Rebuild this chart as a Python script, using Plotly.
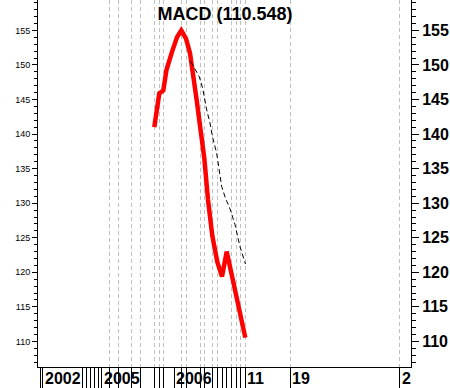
import plotly.graph_objects as go

# period index positions (time axis, non-uniform calendar)
grid_ticks = [71.3, 80.3, 93.7, 102.3, 116.3, 121.3, 125.3, 143.3, 148, 162.3, 166.3,
              174.3, 179.3, 193.7, 198, 202.7, 207, 252.3, 361.7]
plain_ticks = [2.7, 4.7, 44.7, 48, 52, 56.3, 60.3, 63.7, 136.3, 184, 188.7]
label_pos = [4.7, 63.7, 136.3, 207, 252.3, 361.7]
label_text = ["2002", "2005", "2006", "11", "19", "2"]

macd_t = [116.3, 121.3, 125.3, 128.5, 134, 139, 143.3, 148, 152, 155.3, 158.7, 162.3,
          166.3, 170, 174.3, 179.3, 184, 188.7, 193.7, 198, 202.7, 207.3]
macd_v = [141.0, 145.9, 146.3, 149.3, 151.9, 154.0, 155.0, 153.8, 151.7, 148.8, 144.9, 140.9,
          136.5, 130.5, 125.3, 121.5, 119.4, 123.0, 119.5, 116.6, 113.6, 110.548]

sig_t = [152.7, 157, 161.3, 164.7, 168.7, 172, 174.5, 178.7, 183.7, 188, 191.3, 197, 202, 207.5]
sig_v = [150.5, 149.5, 148.3, 146.6, 143.5, 141.6, 139.6, 137.2, 132.4, 130.5, 129.5, 126.9, 123.7, 121.2]

y_ticks = [110, 115, 120, 125, 130, 135, 140, 145, 150, 155]
title_text = "MACD (110.548)"

FONT = "Liberation Sans, Arial, sans-serif"

fig = go.Figure()
fig.add_trace(go.Scatter(x=sig_t, y=sig_v, mode="lines", yaxis="y2",
                         line=dict(color="black", width=1, dash="5px,3px"),
                         hoverinfo="skip", showlegend=False))
fig.add_trace(go.Scatter(x=macd_t, y=macd_v, mode="lines",
                         line=dict(color="#ff0000", width=4.5),
                         showlegend=False))

for pos, txt in zip(label_pos, label_text):
    fig.add_annotation(x=pos, y=0, xref="x", yref="paper", text="<b>%s</b>" % txt,
                       showarrow=False, xanchor="left", yanchor="middle", xshift=0, yshift=-11,
                       font=dict(family=FONT, size=16, color="black"))

fig.update_layout(
    width=450, height=388,
    margin=dict(l=38, r=39, t=0, b=21, autoexpand=False),
    paper_bgcolor="white", plot_bgcolor="white",
    title=dict(text="<b>%s</b>" % title_text, x=0.5, xanchor="center",
               y=1 - 14 / 388, yanchor="middle", yref="container",
               font=dict(family=FONT, size=18, color="black")),
    xaxis=dict(range=[0, 373], tickmode="array", tickvals=grid_ticks, showticklabels=False,
               automargin=False,
               ticks="outside", ticklen=21, tickwidth=1, tickcolor="black",
               showgrid=True, gridcolor="#c0c0c0", gridwidth=1, griddash="4px,3px",
               showline=True, linecolor="black", linewidth=1, zeroline=False,
               minor=dict(tickmode="array", tickvals=plain_ticks, ticks="outside", ticklen=21,
                          tickwidth=1, tickcolor="black", showgrid=False)),
    yaxis=dict(range=[106.3, 159.4], tickmode="array", tickvals=y_ticks, automargin=False,
               ticks="outside", ticklen=5, tickcolor="black", tickwidth=1,
               showline=True, linecolor="black", linewidth=1, showgrid=False, zeroline=False,
               tickfont=dict(family=FONT, size=9, color="black"),
               minor=dict(dtick=1, ticks="outside", ticklen=3, tickcolor="black", showgrid=False)),
    yaxis2=dict(matches="y", overlaying="y", side="right", tickmode="array", tickvals=y_ticks,
                automargin=False,
                ticks="outside", ticklen=7, tickcolor="black", tickwidth=1,
                showline=True, linecolor="black", linewidth=1, showgrid=False, zeroline=False,
                tickfont=dict(family=FONT, size=16, color="black", weight="bold"),
                minor=dict(dtick=1, ticks="outside", ticklen=4, tickcolor="black", showgrid=False)),
)

fig.write_html("out.html", config={"displayModeBar": False},
               post_script="document.body.style.margin='0';document.body.style.overflow='hidden';")
